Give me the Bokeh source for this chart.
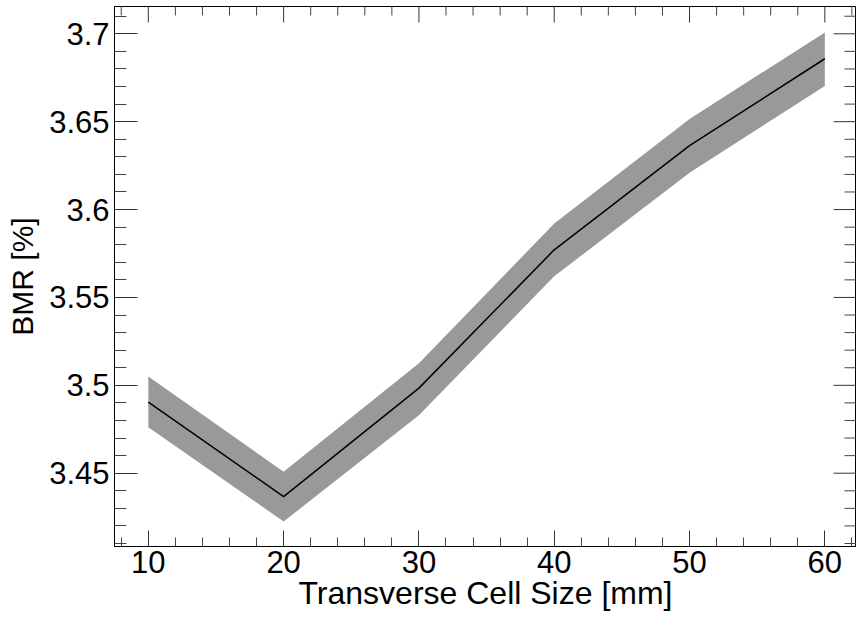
import math
from bokeh.plotting import figure
from bokeh.models import Range1d, LinearAxis, FixedTicker, CustomJSTickFormatter
from bokeh.embed import file_html
from bokeh.resources import INLINE

# Data
cell_size = [10, 20, 30, 40, 50, 60]
bmr = [3.4904, 3.4367, 3.4984, 3.5771, 3.6364, 3.6858]
bmr_low = [3.4762, 3.4225, 3.4830, 3.5620, 3.6210, 3.6703]
bmr_high = [3.5050, 3.4508, 3.5125, 3.5920, 3.6515, 3.7008]

x_major = [10, 20, 30, 40, 50, 60]
x_minor = [8, 12, 14, 16, 18, 22, 24, 26, 28, 32, 34, 36, 38, 42, 44, 46, 48,
           52, 54, 56, 58, 62]
y_major = [3.45, 3.5, 3.55, 3.6, 3.65, 3.7]
y_minor = [3.41, 3.42, 3.43, 3.44, 3.46, 3.47, 3.48, 3.49, 3.51, 3.52, 3.53,
           3.54, 3.56, 3.57, 3.58, 3.59, 3.61, 3.62, 3.63, 3.64, 3.66, 3.67,
           3.68, 3.69, 3.71]

X_START, X_END = 7.5, 62.34
Y_START, Y_END = 3.4083, 3.71553

FONT = "Liberation Sans"

p = figure(width=856, height=620, output_backend="svg", toolbar_location=None,
           x_range=Range1d(X_START, X_END), y_range=Range1d(Y_START, Y_END),
           x_axis_location=None, y_axis_location=None,
           min_border_left=114, min_border_right=0, min_border_top=6,
           min_border_bottom=74)
p.grid.visible = False
p.outline_line_color = "black"
p.outline_line_width = 1
p.background_fill_color = "white"
p.border_fill_color = "white"

p.varea(x=cell_size, y1=bmr_low, y2=bmr_high, fill_color="#999999", fill_alpha=1.0)
p.line(x=cell_size, y=bmr, line_color="black", line_width=1.5)

# ticks on the top and right frame edges (ROOT style), clipped to the frame
p.scatter(x=x_major, y=[Y_END] * len(x_major), marker="dash", angle=math.pi / 2,
          size=32, line_color="#333333", line_width=1)
p.scatter(x=x_minor, y=[Y_END] * len(x_minor), marker="dash", angle=math.pi / 2,
          size=18, line_color="#444444", line_width=1)
p.scatter(x=[X_END] * len(y_major), y=y_major, marker="dash", angle=0,
          size=46, line_color="#333333", line_width=1)
p.scatter(x=[X_END] * len(y_minor), y=y_minor, marker="dash", angle=0,
          size=24, line_color="#444444", line_width=1)

fmt = CustomJSTickFormatter(code="return String(Math.round(tick*1000)/1000);")


def style(ax, major_len, minor_len):
    ax.axis_line_color = "black"
    ax.axis_line_width = 1
    ax.major_tick_in = major_len
    ax.major_tick_out = 0
    ax.minor_tick_in = minor_len
    ax.minor_tick_out = 0
    ax.major_tick_line_color = "#333333"
    ax.minor_tick_line_color = "#444444"
    ax.major_label_text_font = FONT
    ax.axis_label_text_font = FONT
    ax.axis_label_text_font_style = "normal"
    ax.axis_label_text_color = "black"
    ax.major_label_text_color = "black"


xb = LinearAxis(ticker=FixedTicker(ticks=x_major, minor_ticks=x_minor),
                axis_label="Transverse Cell Size [mm]")
style(xb, 16, 9)
xb.major_label_text_font_size = "31px"
xb.major_label_standoff = 4
xb.axis_label_text_font_size = "32px"
xb.axis_label_standoff = -1
p.add_layout(xb, "below")

yl = LinearAxis(ticker=FixedTicker(ticks=y_major, minor_ticks=y_minor),
                axis_label="BMR [%]", formatter=fmt)
style(yl, 23, 12)
yl.major_label_text_font_size = "31px"
yl.major_label_standoff = 5
yl.axis_label_text_font_size = "30px"
yl.axis_label_standoff = 7
p.add_layout(yl, "left")

open("out.html", "w").write(file_html(p, INLINE))
